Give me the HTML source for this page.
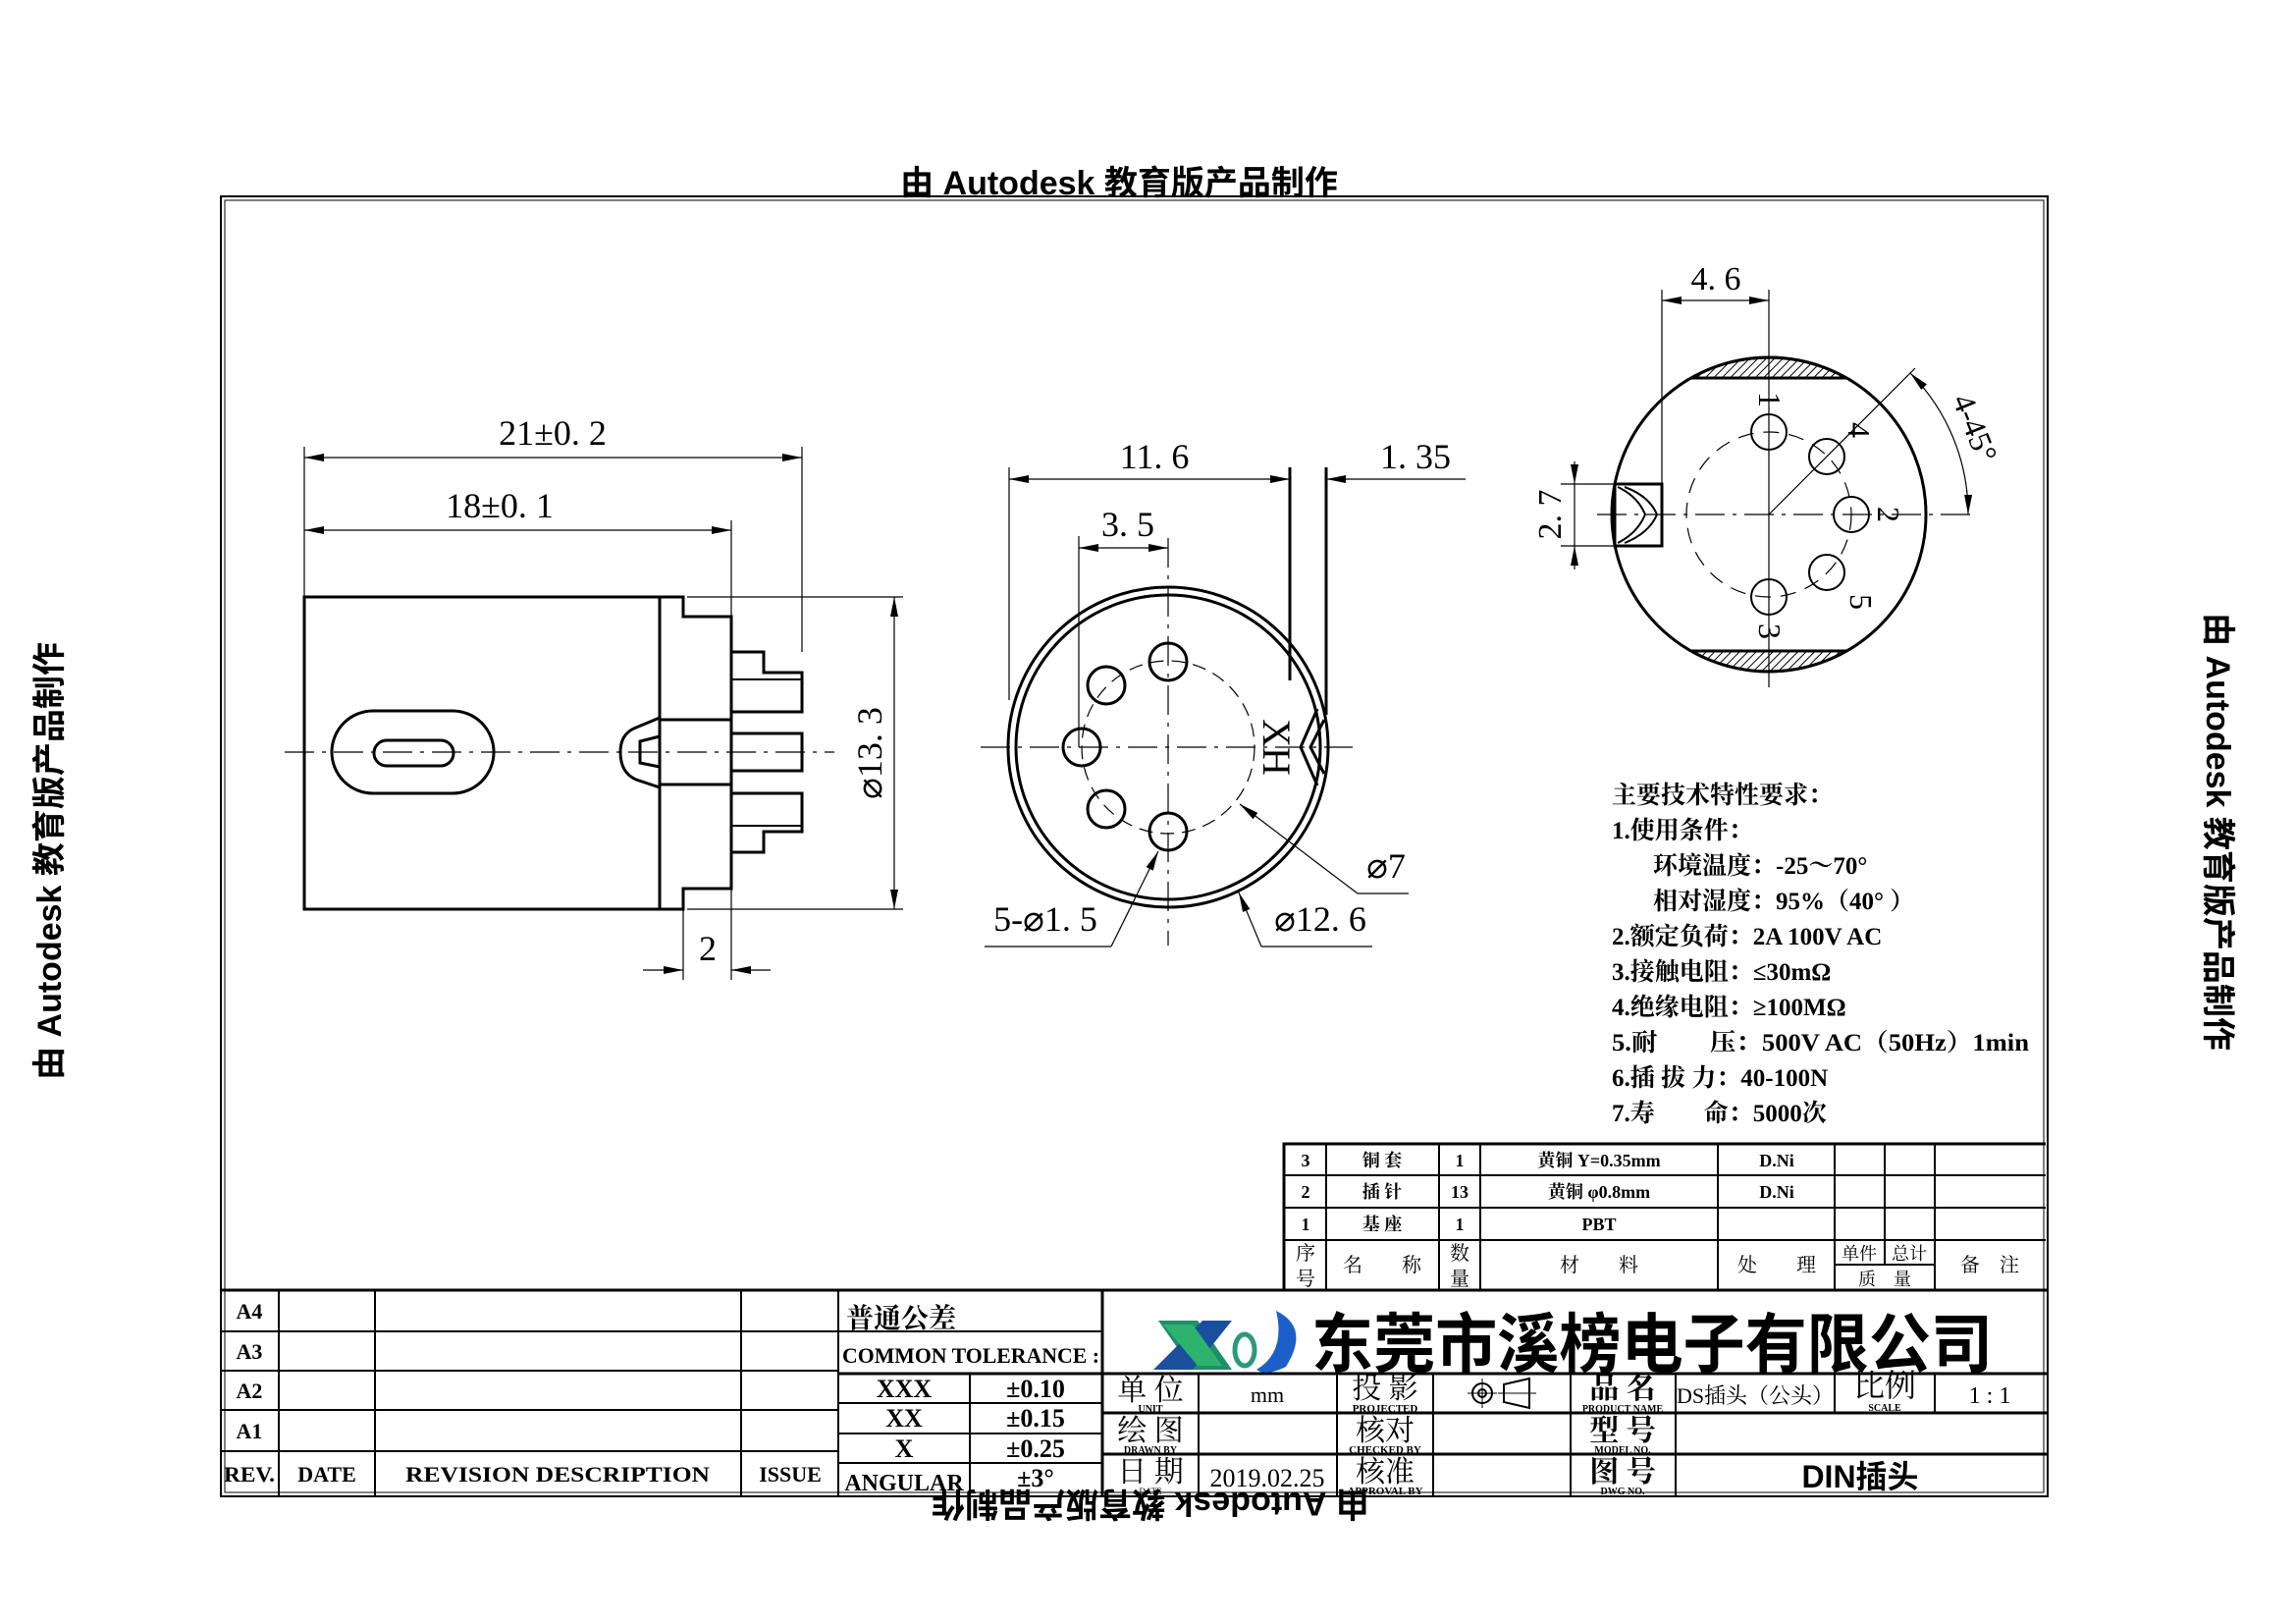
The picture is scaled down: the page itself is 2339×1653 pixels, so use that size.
<!DOCTYPE html>
<html><head><meta charset="utf-8"><style>
html,body{margin:0;padding:0;background:#fff;}
svg{display:block;}
.s{font-family:"Liberation Serif","Noto Serif CJK SC",serif;}
.b{font-family:"Liberation Sans","Noto Sans CJK SC",sans-serif;font-weight:bold;}
.cj{font-family:"Liberation Serif","Noto Serif CJK SC",serif;font-weight:bold;}
</style></head><body>
<svg width="2339" height="1653" viewBox="0 0 2339 1653" xmlns="http://www.w3.org/2000/svg">
<defs>
<marker id="ar2" viewBox="0 0 20 8" refX="20" refY="4" markerWidth="20" markerHeight="8" markerUnits="userSpaceOnUse" orient="auto-start-reverse"><path d="M0,0 L20,4 L0,8 z" fill="#000"/></marker>
<pattern id="hatch" width="6" height="6" patternUnits="userSpaceOnUse" patternTransform="rotate(45)"><line x1="0" y1="0" x2="0" y2="6" stroke="#000" stroke-width="2"/></pattern>
</defs>
<rect width="2339" height="1653" fill="#fff"/>

<!-- watermarks -->
<text x="1140" y="198" class="b" font-size="34" text-anchor="middle">由 Autodesk 教育版产品制作</text>
<text transform="translate(1172,1520) rotate(180)" class="b" font-size="34" text-anchor="middle">由 Autodesk 教育版产品制作</text>
<text transform="translate(62,877) rotate(-90)" class="b" font-size="34" text-anchor="middle">由 Autodesk 教育版产品制作</text>
<text transform="translate(2248,847) rotate(90)" class="b" font-size="34" text-anchor="middle">由 Autodesk 教育版产品制作</text>

<!-- border -->
<rect x="225" y="200" width="1861" height="1324" fill="none" stroke="#000" stroke-width="2"/>
<rect x="229" y="204" width="1853" height="1316" fill="none" stroke="#000" stroke-width="1"/>

<!-- LEFT VIEW -->
<g fill="none" stroke="#000" stroke-width="3">
<rect x="310" y="608" width="362" height="318"/>
<path d="M672,608 H696 V628 H745 V905 H696 V926 H672"/>
<path d="M745,664 H778 V685 H817 V725 H745"/>
<line x1="745" y1="692" x2="817" y2="692" stroke-width="2"/>
<rect x="745" y="747" width="72" height="38"/>
<path d="M745,868 H778 V847 H817 V808 H745"/>
<line x1="745" y1="841" x2="817" y2="841" stroke-width="2"/>
<line x1="672" y1="733" x2="745" y2="733"/>
<line x1="672" y1="799" x2="745" y2="799"/>
<path d="M672,731 L648,741 Q632,747 632,766 Q632,787 648,794 L672,802"/>
<path d="M672,750 L652,755 L652,777 L672,781"/>
<rect x="338" y="724" width="165" height="84" rx="42" ry="42"/>
<rect x="381" y="754" width="81" height="26" rx="13" ry="13"/>
</g>
<line x1="290" y1="766" x2="850" y2="766" stroke="#000" stroke-width="1.2" stroke-dasharray="30,8,4,8"/>
<g stroke="#000" stroke-width="1.2" fill="none">
<line x1="310" y1="455" x2="310" y2="608"/>
<line x1="817" y1="455" x2="817" y2="664"/>
<line x1="745" y1="530" x2="745" y2="628"/>
<line x1="310" y1="466" x2="817" y2="466" marker-start="url(#ar2)" marker-end="url(#ar2)"/>
<line x1="310" y1="540" x2="745" y2="540" marker-start="url(#ar2)" marker-end="url(#ar2)"/>
<line x1="700" y1="608" x2="920" y2="608"/>
<line x1="700" y1="926" x2="920" y2="926"/>
<line x1="911" y1="608" x2="911" y2="926" marker-start="url(#ar2)" marker-end="url(#ar2)"/>
<line x1="696" y1="926" x2="696" y2="998"/>
<line x1="745" y1="905" x2="745" y2="998"/>
<line x1="655" y1="988" x2="696" y2="988" marker-end="url(#ar2)"/>
<line x1="785" y1="988" x2="745" y2="988" marker-end="url(#ar2)"/>
</g>
<g class="s" font-size="36" text-anchor="middle">
<text x="563" y="453">21±0. 2</text>
<text x="509" y="527">18±0. 1</text>
<text transform="translate(898,767) rotate(-90)">⌀13. 3</text>
<text x="721" y="978">2</text>
</g>

<!-- MIDDLE VIEW -->
<g transform="translate(-13,-12)">
<g fill="none" stroke="#000">
<circle cx="1203" cy="773" r="163" stroke-width="3"/>
<circle cx="1203" cy="773" r="155" stroke-width="3"/>
<circle cx="1203" cy="773" r="88" stroke-width="1.2" stroke-dasharray="14,8"/>
<g stroke-width="3">
<circle cx="1203" cy="686" r="19"/>
<circle cx="1140" cy="710" r="19"/>
<circle cx="1115" cy="773" r="19"/>
<circle cx="1140" cy="836" r="19"/>
<circle cx="1203" cy="859" r="19"/>
</g>
<g stroke-width="1.2">
<line x1="1012" y1="773" x2="1391" y2="773" stroke-dasharray="30,8,4,8"/>
<line x1="1203" y1="560" x2="1203" y2="975" stroke-dasharray="30,8,4,8"/>
<line x1="1041" y1="488" x2="1041" y2="725"/>
<line x1="1112" y1="558" x2="1112" y2="773"/>
<line x1="1041" y1="500" x2="1327" y2="500" marker-start="url(#ar2)" marker-end="url(#ar2)"/>
<line x1="1112" y1="570" x2="1203" y2="570" marker-start="url(#ar2)" marker-end="url(#ar2)"/>
<line x1="1506" y1="500" x2="1364" y2="500" marker-end="url(#ar2)"/>
<line x1="1276" y1="831" x2="1396" y2="922" marker-start="url(#ar2)"/><line x1="1396" y1="922" x2="1448" y2="922"/>
<line x1="1275" y1="921" x2="1298" y2="976" marker-start="url(#ar2)"/><line x1="1298" y1="976" x2="1411" y2="976"/>
<line x1="1193" y1="879" x2="1145" y2="976" marker-start="url(#ar2)"/><line x1="1145" y1="976" x2="1016" y2="976"/>
</g>
<g stroke-width="3">
<line x1="1327" y1="488" x2="1327" y2="705"/>
<line x1="1364" y1="488" x2="1364" y2="740"/>
<path d="M1355,734 L1338,773 L1355,812"/>
<path d="M1362,745 L1348,773 L1362,800"/>
</g>
</g>
<g class="s" font-size="36" text-anchor="middle">
<text x="1189" y="489">11. 6</text>
<text x="1455" y="489">1. 35</text>
<text x="1162" y="558">3. 5</text>
<text x="1425" y="906">⌀7</text>
<text x="1358" y="960">⌀12. 6</text>
<text x="1078" y="960">5-⌀1. 5</text>
<text transform="translate(1300,773) rotate(90)" font-size="40">XH</text>
</g>
</g>

<!-- RIGHT VIEW -->
<g fill="none" stroke="#000">
<path d="M1723,385 A160,160 0 0 1 1881,385 Z" fill="url(#hatch)" stroke-width="3"/>
<path d="M1723,663 A160,160 0 0 0 1881,663 Z" fill="url(#hatch)" stroke-width="3"/>
<circle cx="1802" cy="524" r="160" stroke-width="3"/>
<circle cx="1802" cy="524" r="84" stroke-width="1.2" stroke-dasharray="16,10"/>
<g stroke-width="2">
<circle cx="1802" cy="440" r="18"/>
<circle cx="1861" cy="465" r="18"/>
<circle cx="1886" cy="524" r="18"/>
<circle cx="1861" cy="583" r="18"/>
<circle cx="1802" cy="608" r="18"/>
</g>
<rect x="1645" y="493" width="48" height="63" stroke-width="3"/>
<path d="M1648,496 Q1668,505 1676,524 Q1668,543 1648,553" stroke-width="2"/>
<path d="M1655,496 Q1680,505 1688,524 Q1680,543 1655,553" stroke-width="2"/>
<g stroke-width="1.2">
<line x1="1627" y1="524" x2="2013" y2="524" stroke-dasharray="30,8,4,8"/>
<line x1="1802" y1="295" x2="1802" y2="700"/>
<line x1="1693" y1="295" x2="1693" y2="493"/>
<line x1="1693" y1="306" x2="1802" y2="306" marker-start="url(#ar2)" marker-end="url(#ar2)"/>
<line x1="1590" y1="493" x2="1645" y2="493"/>
<line x1="1590" y1="556" x2="1645" y2="556"/>
<line x1="1604" y1="470" x2="1604" y2="493" marker-end="url(#ar2)"/>
<line x1="1604" y1="580" x2="1604" y2="556" marker-end="url(#ar2)"/>
<line x1="1604" y1="493" x2="1604" y2="556"/>
<line x1="1802" y1="524" x2="1951" y2="375"/>
<path d="M1946,380 A203,203 0 0 1 2005,524" marker-start="url(#ar2)" marker-end="url(#ar2)"/>
</g>
</g>
<g class="s" font-size="34" text-anchor="middle">
<text x="1748" y="295">4. 6</text>
<text transform="translate(1590,524) rotate(-90)">2. 7</text>
<g font-size="32">
<text transform="translate(1792,407) rotate(90)">1</text>
<text transform="translate(1883,438) rotate(90)">4</text>
<text transform="translate(1913,524) rotate(90)">2</text>
<text transform="translate(1885,613) rotate(90)">5</text>
<text transform="translate(1792,643) rotate(90)">3</text>
<text transform="translate(2002,440) rotate(68)">4-45°</text>
</g>
</g>

<!-- NOTES -->
<g class="cj" font-size="25">
<text x="1642" y="818">主要技术特性要求：</text>
<text x="1642" y="854">1.使用条件：</text>
<text x="1684" y="890">环境温度：-25～70°</text>
<text x="1684" y="926">相对湿度：95%（40° ）</text>
<text x="1642" y="962">2.额定负荷：2A 100V AC</text>
<text x="1642" y="998">3.接触电阻：≤30mΩ</text>
<text x="1642" y="1034">4.绝缘电阻：≥100MΩ</text>
<text x="1642" y="1070" textLength="425" lengthAdjust="spacingAndGlyphs">5.耐　　压：500V AC（50Hz）1min</text>
<text x="1642" y="1106">6.插 拔 力：40-100N</text>
<text x="1642" y="1142">7.寿　　命：5000次</text>
</g>

<!-- BOM TABLE -->
<g stroke="#000" fill="none">
<path d="M1308,1314 V1165 H2084" stroke-width="3"/>
<g stroke-width="2">
<line x1="1308" y1="1197" x2="2084" y2="1197"/>
<line x1="1308" y1="1230" x2="2084" y2="1230"/>
<line x1="1308" y1="1263" x2="2084" y2="1263"/>
<line x1="1351" y1="1165" x2="1351" y2="1314"/>
<line x1="1466" y1="1165" x2="1466" y2="1314"/>
<line x1="1508" y1="1165" x2="1508" y2="1314"/>
<line x1="1750" y1="1165" x2="1750" y2="1314"/>
<line x1="1869" y1="1165" x2="1869" y2="1314"/>
<line x1="1920" y1="1165" x2="1920" y2="1288"/>
<line x1="1971" y1="1165" x2="1971" y2="1314"/>
<line x1="1869" y1="1288" x2="1971" y2="1288"/>
</g>
</g>
<g class="cj" font-size="18" text-anchor="middle">
<text x="1330" y="1188">3</text><text x="1408" y="1188">铜 套</text><text x="1487" y="1188">1</text><text x="1629" y="1188">黄铜 Y=0.35mm</text><text x="1810" y="1188">D.Ni</text>
<text x="1330" y="1220">2</text><text x="1408" y="1220">插 针</text><text x="1487" y="1220">13</text><text x="1629" y="1220">黄铜 φ0.8mm</text><text x="1810" y="1220">D.Ni</text>
<text x="1330" y="1253">1</text><text x="1408" y="1253">基 座</text><text x="1487" y="1253">1</text><text x="1629" y="1253">PBT</text>
<g font-weight="normal" font-size="20">
<text x="1330" y="1283">序</text><text x="1330" y="1309">号</text>
<text x="1408" y="1295">名　　称</text>
<text x="1487" y="1283">数</text><text x="1487" y="1309">量</text>
<text x="1629" y="1295">材　　料</text>
<text x="1810" y="1295">处　　理</text>
<text x="1894" y="1283" font-size="18">单件</text><text x="1945" y="1283" font-size="18">总计</text>
<text x="1920" y="1309" font-size="18">质　量</text>
<text x="2027" y="1295">备　注</text>
</g>
</g>

<!-- TITLE BLOCK -->
<g stroke="#000" fill="none">
<line x1="225" y1="1314" x2="2086" y2="1314" stroke-width="3"/>
<g stroke-width="2">
<line x1="225" y1="1356" x2="1123" y2="1356"/>
<line x1="225" y1="1396" x2="854" y2="1396"/>
<line x1="854" y1="1399" x2="2086" y2="1399" stroke-width="3"/>
<line x1="225" y1="1436" x2="854" y2="1436"/>
<line x1="225" y1="1478" x2="854" y2="1478"/>
<line x1="854" y1="1429" x2="1123" y2="1429"/>
<line x1="854" y1="1460" x2="1123" y2="1460"/>
<line x1="854" y1="1490" x2="1123" y2="1490"/>
<line x1="1123" y1="1439" x2="2086" y2="1439" stroke-width="3"/>
<line x1="1123" y1="1481" x2="2086" y2="1481" stroke-width="3"/>
<line x1="284" y1="1314" x2="284" y2="1524"/>
<line x1="382" y1="1314" x2="382" y2="1524"/>
<line x1="755" y1="1314" x2="755" y2="1524"/>
<line x1="854" y1="1314" x2="854" y2="1524"/>
<line x1="988" y1="1399" x2="988" y2="1524"/>
<line x1="1123" y1="1314" x2="1123" y2="1524" stroke-width="3"/>
<line x1="1221" y1="1399" x2="1221" y2="1524"/>
<line x1="1362" y1="1399" x2="1362" y2="1524"/>
<line x1="1460" y1="1399" x2="1460" y2="1524"/>
<line x1="1600" y1="1399" x2="1600" y2="1524"/>
<line x1="1707" y1="1399" x2="1707" y2="1524"/>
<line x1="1869" y1="1399" x2="1869" y2="1439"/>
<line x1="1971" y1="1399" x2="1971" y2="1439"/>
</g>
</g>
<g class="s" font-weight="bold" font-size="22" text-anchor="middle">
<text x="254" y="1343">A4</text><text x="254" y="1384">A3</text><text x="254" y="1424">A2</text><text x="254" y="1465">A1</text>
<text x="254" y="1509" textLength="52" lengthAdjust="spacingAndGlyphs">REV.</text>
<text x="333" y="1509">DATE</text>
<text x="568" y="1509" textLength="310" lengthAdjust="spacingAndGlyphs">REVISION DESCRIPTION</text>
<text x="805" y="1509">ISSUE</text>
<text x="862" y="1352" text-anchor="start" class="cj" font-size="28">普通公差</text>
<text x="858" y="1388" text-anchor="start" textLength="262" lengthAdjust="spacingAndGlyphs">COMMON TOLERANCE :</text>
<text x="921" y="1423" font-size="26">XXX</text><text x="1055" y="1423" font-size="26">±0.10</text>
<text x="921" y="1453" font-size="26">XX</text><text x="1055" y="1453" font-size="26">±0.15</text>
<text x="921" y="1484" font-size="26">X</text><text x="1055" y="1484" font-size="26">±0.25</text>
<text x="921" y="1518" font-size="24">ANGULAR</text><text x="1055" y="1514" font-size="26">±3°</text>
</g>
<!-- logo -->
<g>
<path d="M1300,1335 Q1335,1352 1310,1392 Q1290,1402 1280,1395 Q1310,1377 1300,1335 z" fill="#1c5fc8"/>
<path d="M1180,1345 L1220,1345 L1255,1395 L1215,1395 z" fill="#1f8f6a"/>
<path d="M1175,1395 L1215,1395 L1255,1345 L1225,1345 z" fill="#1a4f9e"/>
<path d="M1185,1349 L1215,1349 L1245,1391 L1220,1391 z" fill="#2db36d"/>
<ellipse cx="1268" cy="1375" rx="10" ry="16" fill="none" stroke="#2a9a7a" stroke-width="5"/>
</g>
<text x="1336" y="1392" class="b" font-size="66" textLength="694" lengthAdjust="spacingAndGlyphs">东莞市溪榜电子有限公司</text>

<g class="s" text-anchor="middle">
<text x="1172" y="1426" font-size="30">单 位</text><text x="1172" y="1438" font-size="10" font-weight="bold">UNIT</text>
<text x="1291" y="1428" font-size="22">mm</text>
<text x="1411" y="1424" font-size="30">投 影</text><text x="1411" y="1438" font-size="11" font-weight="bold">PROJECTED</text>
<text x="1653" y="1424" font-size="30" font-weight="bold">品 名</text><text x="1653" y="1438" font-size="10" font-weight="bold">PRODUCT NAME</text>
<text x="1788" y="1429" font-size="22">DS插头（公头）</text>
<text x="1920" y="1422" font-size="32">比例</text><text x="1920" y="1437" font-size="10" font-weight="bold">SCALE</text>
<text x="2027" y="1429" font-size="24">1 : 1</text>
<text x="1172" y="1467" font-size="30">绘 图</text><text x="1172" y="1480" font-size="10" font-weight="bold">DRAWN BY</text>
<text x="1411" y="1467" font-size="30">核对</text><text x="1411" y="1480" font-size="11" font-weight="bold">CHECKED BY</text>
<text x="1653" y="1467" font-size="30" font-weight="bold">型 号</text><text x="1653" y="1480" font-size="10" font-weight="bold">MODEL NO.</text>
<text x="1172" y="1509" font-size="30">日 期</text><text x="1172" y="1522" font-size="9">DATE</text>
<text x="1291" y="1514" font-size="26">2019.02.25</text>
<text x="1411" y="1509" font-size="30">核准</text><text x="1411" y="1522" font-size="11" font-weight="bold">APPROVAL BY</text>
<text x="1653" y="1509" font-size="30" font-weight="bold">图 号</text><text x="1653" y="1522" font-size="10" font-weight="bold">DWG NO.</text>
</g>
<text x="1895" y="1515" class="b" font-size="32" text-anchor="middle">DIN插头</text>
<g fill="none" stroke="#000" stroke-width="2">
<circle cx="1510" cy="1419" r="10"/><circle cx="1510" cy="1419" r="4"/>
<line x1="1495" y1="1419" x2="1525" y2="1419" stroke-width="1"/><line x1="1510" y1="1404" x2="1510" y2="1434" stroke-width="1"/>
<path d="M1532,1410 L1558,1404 L1558,1434 L1532,1428 z"/>
<line x1="1526" y1="1419" x2="1565" y2="1419" stroke-width="1"/>
</g>
</svg>
</body></html>
